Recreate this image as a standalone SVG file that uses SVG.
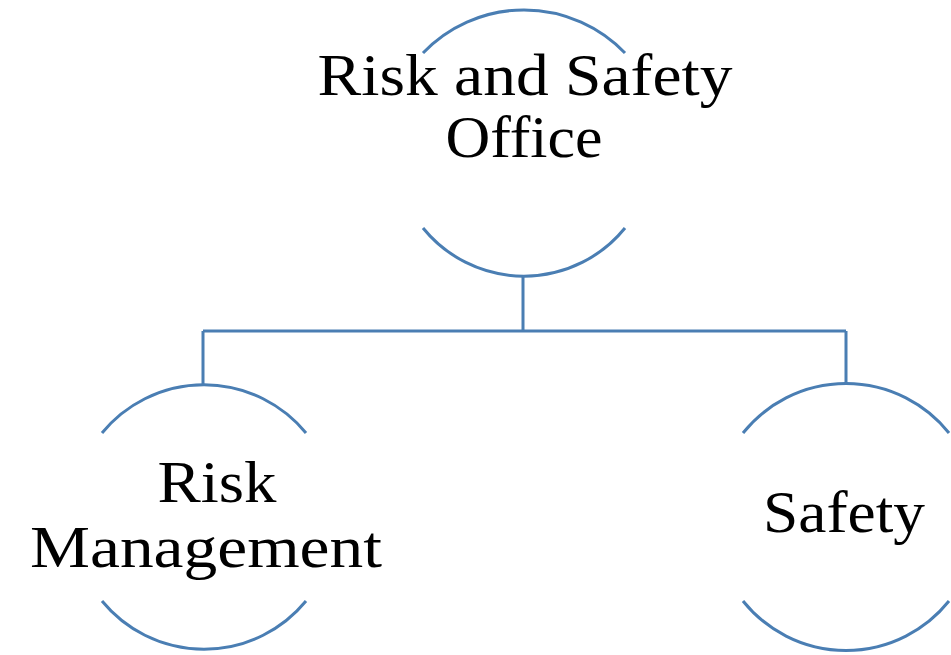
<svg xmlns="http://www.w3.org/2000/svg" width="951" height="655" viewBox="0 0 951 655">
<style>
.arc{fill:none;stroke:#4A7EB3;stroke-width:3}
.conn{fill:none;stroke:#4A7EB3;stroke-width:3}
.lbl{font-family:"Liberation Serif","DejaVu Serif",serif;font-size:60px;fill:#000;text-anchor:middle}
</style>
<rect width="951" height="655" fill="#fff"/>
<g id="connectors">
<path class="conn" d="M523,276 V331 M203,331 H846 M203,331 V385 M846,331 V385"/>
</g>
<g id="node-office">
<path class="arc" d="M423,53 A140,140 0 0 1 625,53"/>
<path class="arc" d="M423,228 A130,130 0 0 0 625,228"/>
<text class="lbl" x="525" y="95" textLength="415" lengthAdjust="spacingAndGlyphs">Risk and Safety</text>
<text class="lbl" x="524" y="157" textLength="157" lengthAdjust="spacingAndGlyphs">Office</text>
</g>
<g id="node-risk">
<path class="arc" d="M102,433 A132,132 0 0 1 306,433"/>
<path class="arc" d="M102,601 A132,132 0 0 0 306,601"/>
<text class="lbl" x="217" y="502" textLength="119" lengthAdjust="spacingAndGlyphs">Risk</text>
<text class="lbl" x="206" y="567" textLength="352" lengthAdjust="spacingAndGlyphs">Management</text>
</g>
<g id="node-safety">
<path class="arc" d="M743,433 A132,132 0 0 1 949,433"/>
<path class="arc" d="M743,601 A132,132 0 0 0 949,601"/>
<text class="lbl" x="844" y="532" textLength="162" lengthAdjust="spacingAndGlyphs">Safety</text>
</g>
</svg>
